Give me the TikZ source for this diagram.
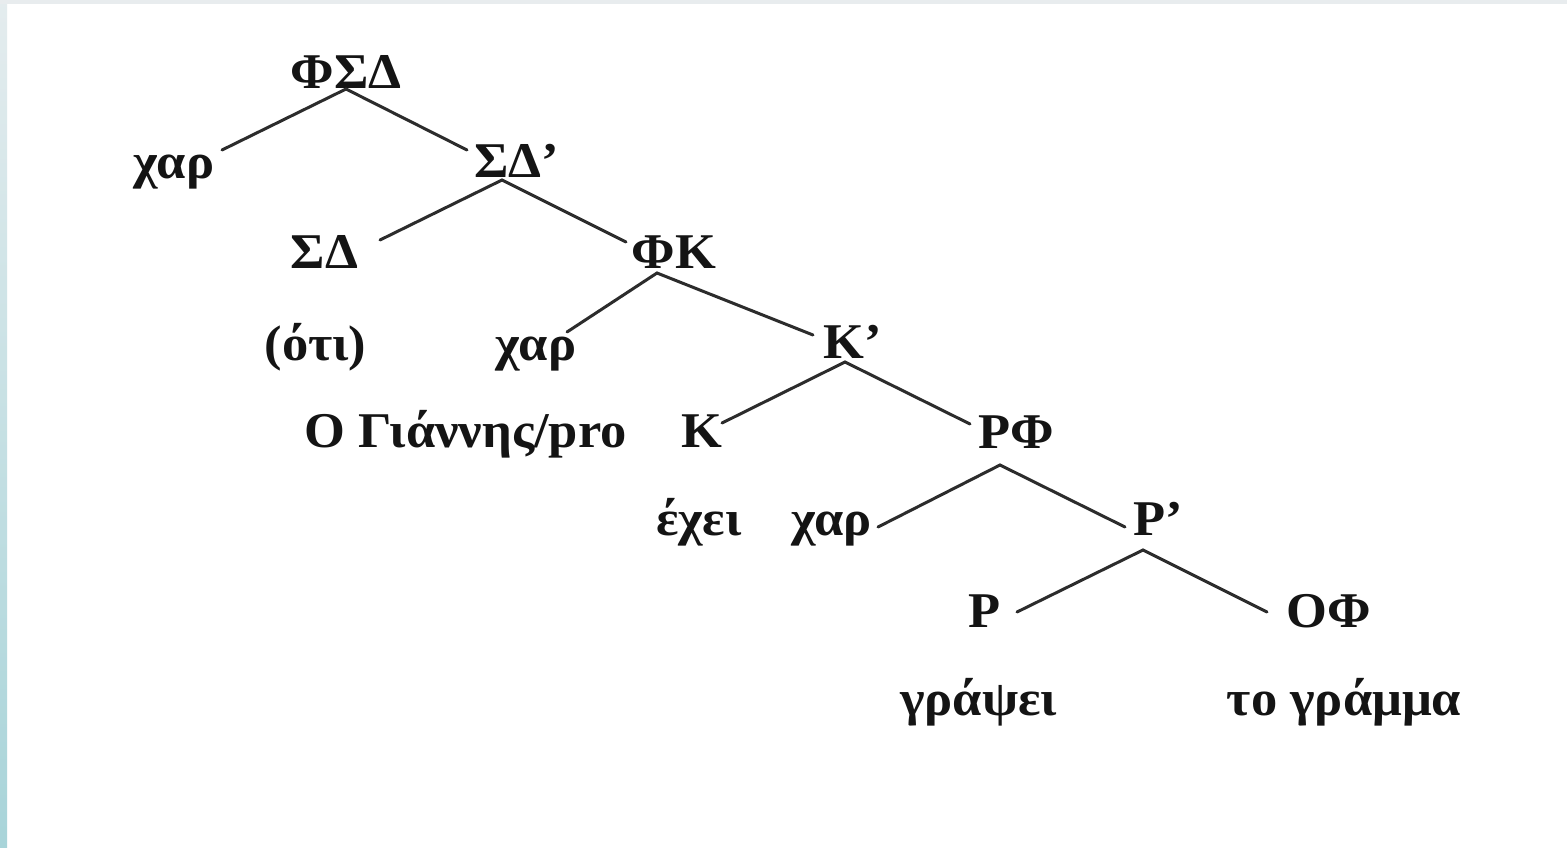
\documentclass[tikz,border=0pt]{standalone}
\usepackage{fontspec}
\setmainfont[FakeStretch=1.05]{Liberation Serif}
\definecolor{stripTop}{HTML}{E4ECEE}
\definecolor{stripBot}{HTML}{A8D4D9}
\definecolor{topBar}{HTML}{E8ECEE}
\definecolor{ink}{HTML}{141414}
\begin{document}
\begin{tikzpicture}[x=0.5pt,y=-0.5pt,
  lbl/.style={inner sep=0pt, anchor=base, font=\fontsize{25}{30}\selectfont\bfseries, text=ink},
  branch/.style={line width=1.5pt, draw=ink!90, line cap=round}]
\useasboundingbox (0,0) rectangle (1567,847);
\fill[white] (0,0) rectangle (1567,847);
\shade[top color=stripTop, bottom color=stripBot] (0,0) rectangle (7,847);
\fill[topBar] (0,0) rectangle (1567,4);

% labels
\node[lbl] (fsd)  at (346,88)   {ΦΣΔ};
\node[lbl] (xar1) at (174,178)  {χαρ};
\node[lbl] (sdp)  at (517,177)  {ΣΔ’};
\node[lbl] (sd)   at (324.5,268){ΣΔ};
\node[lbl] (fk)   at (674,268)  {ΦΚ};
\node[lbl] (oti)  at (315.5,360){(ότι)};
\node[lbl] (xar2) at (536,360)  {χαρ};
\node[lbl] (kp)   at (853,358)  {Κ’};
\node[lbl] (gian) at (465.5,447){Ο Γιάννης/pro};
\node[lbl] (k)    at (701.5,447){Κ};
\node[lbl] (rf)   at (1016.5,448){ΡΦ};
\node[lbl] (exei) at (699,535)  {έχει};
\node[lbl] (xar3) at (831.5,535){χαρ};
\node[lbl] (rp)   at (1158,535) {Ρ’};
\node[lbl] (r)    at (985,627)  {Ρ};
\node[lbl] (of)   at (1329,627) {ΟΦ};
\node[lbl] (grap) at (978.5,715){γράψει};
\node[lbl] (gram) at (1344,715) {το γράμμα};

% branch points
\coordinate (fsdA)  at (346,89);
\coordinate (xar1E) at (222,150);
\coordinate (sdpE)  at (467,150);
\coordinate (sdpA)  at (502,180);
\coordinate (sdE)   at (380,240);
\coordinate (fkE)   at (626,242);
\coordinate (fkA)   at (657,273);
\coordinate (xar2E) at (567,332);
\coordinate (kpE)   at (813,335);
\coordinate (kpA)   at (845,362);
\coordinate (kE)    at (722,423);
\coordinate (rfE)   at (970,424);
\coordinate (rfA)   at (1000,465);
\coordinate (xar3E) at (878,527);
\coordinate (rpE)   at (1125,527);
\coordinate (rpA)   at (1143,550);
\coordinate (rE)    at (1017,612);
\coordinate (ofE)   at (1267,612);

\draw[branch] (xar1E) -- (fsdA) -- (sdpE);
\draw[branch] (sdE) -- (sdpA) -- (fkE);
\draw[branch] (xar2E) -- (fkA) -- (kpE);
\draw[branch] (kE) -- (kpA) -- (rfE);
\draw[branch] (xar3E) -- (rfA) -- (rpE);
\draw[branch] (rE) -- (rpA) -- (ofE);
\end{tikzpicture}
\end{document}
